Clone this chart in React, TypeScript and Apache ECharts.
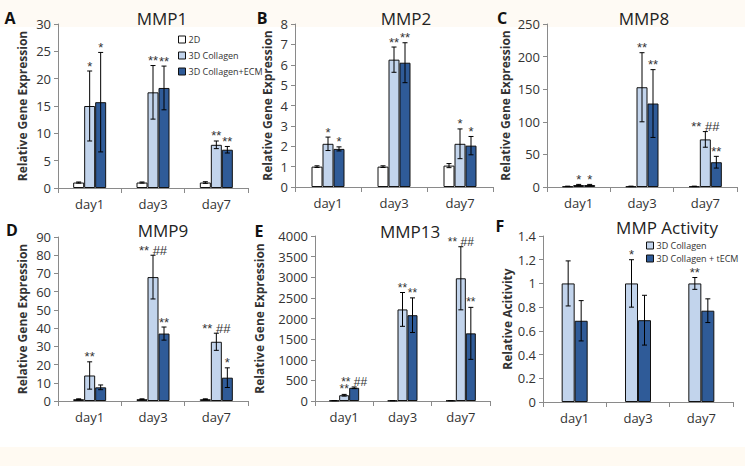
import React, { useEffect, useRef } from "react";
import * as echarts from "echarts";

const FONT = "'Open Sans', 'Liberation Sans', sans-serif";
const STAR_FONT = "'Liberation Sans', Arial, sans-serif";

const days = ["day1", "day3", "day7"];

// MMP1
const mmp1_2d = [1, 1, 1];
const mmp1_2dErr = [0.1, 0.1, 0.15];
const mmp1_col = [15, 17.5, 7.9];
const mmp1_colErr = [6.4, 4.9, 0.7];
const mmp1_ecm = [15.7, 18.3, 7.0];
const mmp1_ecmErr = [9.1, 4.0, 0.6];
const mmp1_colSig = ["*", "**", "**"];
const mmp1_ecmSig = ["*", "**", "**"];

// MMP2
const mmp2_2d = [1, 1, 1.05];
const mmp2_2dErr = [0.04, 0.04, 0.1];
const mmp2_col = [2.12, 6.25, 2.12];
const mmp2_colErr = [0.33, 0.62, 0.73];
const mmp2_ecm = [1.87, 6.1, 2.03];
const mmp2_ecmErr = [0.1, 0.98, 0.45];
const mmp2_colSig = ["*", "**", "*"];
const mmp2_ecmSig = ["*", "**", "*"];

// MMP8
const mmp8_2d = [1, 1, 1];
const mmp8_2dErr = [0.3, 0.3, 0.3];
const mmp8_col = [3, 153, 73];
const mmp8_colErr = [1, 53, 12];
const mmp8_ecm = [3, 128, 38];
const mmp8_ecmErr = [1, 52, 9];
const mmp8_colSig = ["*", "**", "** ##"];
const mmp8_ecmSig = ["*", "**", "**"];

// MMP9
const mmp9_2d = [1, 1, 1];
const mmp9_2dErr = [0.2, 0.2, 0.2];
const mmp9_col = [14, 68, 32.5];
const mmp9_colErr = [7.5, 12, 4.7];
const mmp9_ecm = [7.5, 37, 12.8];
const mmp9_ecmErr = [1.3, 3.6, 5.4];
const mmp9_colSig = ["**", "** ##", "** ##"];
const mmp9_ecmSig = ["", "**", "*"];

// MMP13
const mmp13_2d = [10, 10, 10];
const mmp13_2dErr = [2, 2, 2];
const mmp13_col = [140, 2220, 2975];
const mmp13_colErr = [20, 410, 765];
const mmp13_ecm = [320, 2080, 1640];
const mmp13_ecmErr = [20, 420, 630];
const mmp13_colSig = ["**", "**", "** ##"];
const mmp13_ecmSig = ["** ##", "**", "**"];

// MMP Activity
const act_col = [1, 1, 1];
const act_colErr = [0.19, 0.2, 0.05];
const act_tecm = [0.685, 0.69, 0.77];
const act_tecmErr = [0.17, 0.21, 0.1];
const act_colSig = ["", "*", "**"];
const act_tecmSig = ["", "", ""];

const C_WHITE = "#ffffff";
const C_LIGHT = "#c2d4ec";
const C_DARK = "#2f5b98";

type Bar = { name: string; color: string; vals: number[]; errs: number[]; sigs: string[] };
type Panel = {
  letter: string;
  title: string;
  yName: string;
  max: number;
  interval: number;
  grid: { left: number; top: number; width: number; height: number };
  barWidth: number;
  nameGap: number;
  titlePos: [number, number];
  letterPos: [number, number];
  sigFont: number;
  bars: Bar[];
};

const GENE = "Relative Gene Expression";

const panels: Panel[] = [
  {
    letter: "A", title: "MMP1", yName: GENE, max: 30, interval: 5,
    grid: { left: 58, top: 24, width: 190, height: 164 }, barWidth: 11, nameGap: 30,
    titlePos: [162, 18], letterPos: [10, 18], sigFont: 13,
    bars: [
      { name: "2D", color: C_WHITE, vals: mmp1_2d, errs: mmp1_2dErr, sigs: ["", "", ""] },
      { name: "3D Collagen", color: C_LIGHT, vals: mmp1_col, errs: mmp1_colErr, sigs: mmp1_colSig },
      { name: "3D Collagen+ECM", color: C_DARK, vals: mmp1_ecm, errs: mmp1_ecmErr, sigs: mmp1_ecmSig },
    ],
  },
  {
    letter: "B", title: "MMP2", yName: GENE, max: 8, interval: 1,
    grid: { left: 295, top: 24, width: 198, height: 163 }, barWidth: 11, nameGap: 22,
    titlePos: [406, 18], letterPos: [262, 18], sigFont: 13,
    bars: [
      { name: "2D", color: C_WHITE, vals: mmp2_2d, errs: mmp2_2dErr, sigs: ["", "", ""] },
      { name: "3D Collagen", color: C_LIGHT, vals: mmp2_col, errs: mmp2_colErr, sigs: mmp2_colSig },
      { name: "3D Collagen+ECM", color: C_DARK, vals: mmp2_ecm, errs: mmp2_ecmErr, sigs: mmp2_ecmSig },
    ],
  },
  {
    letter: "C", title: "MMP8", yName: GENE, max: 250, interval: 50,
    grid: { left: 547, top: 24, width: 190, height: 163 }, barWidth: 11, nameGap: 36,
    titlePos: [644, 18], letterPos: [502, 18], sigFont: 13,
    bars: [
      { name: "2D", color: C_WHITE, vals: mmp8_2d, errs: mmp8_2dErr, sigs: ["", "", ""] },
      { name: "3D Collagen", color: C_LIGHT, vals: mmp8_col, errs: mmp8_colErr, sigs: mmp8_colSig },
      { name: "3D Collagen+ECM", color: C_DARK, vals: mmp8_ecm, errs: mmp8_ecmErr, sigs: mmp8_ecmSig },
    ],
  },
  {
    letter: "D", title: "MMP9", yName: GENE, max: 90, interval: 10,
    grid: { left: 58, top: 237, width: 190, height: 164 }, barWidth: 11, nameGap: 30,
    titlePos: [163, 230], letterPos: [12, 230], sigFont: 13,
    bars: [
      { name: "2D", color: C_WHITE, vals: mmp9_2d, errs: mmp9_2dErr, sigs: ["", "", ""] },
      { name: "3D Collagen", color: C_LIGHT, vals: mmp9_col, errs: mmp9_colErr, sigs: mmp9_colSig },
      { name: "3D Collagen+ECM", color: C_DARK, vals: mmp9_ecm, errs: mmp9_ecmErr, sigs: mmp9_ecmSig },
    ],
  },
  {
    letter: "E", title: "MMP13", yName: GENE, max: 4000, interval: 500,
    grid: { left: 315, top: 236, width: 175, height: 165 }, barWidth: 10, nameGap: 50,
    titlePos: [410, 231], letterPos: [259, 231], sigFont: 12,
    bars: [
      { name: "2D", color: C_WHITE, vals: mmp13_2d, errs: mmp13_2dErr, sigs: ["", "", ""] },
      { name: "3D Collagen", color: C_LIGHT, vals: mmp13_col, errs: mmp13_colErr, sigs: mmp13_colSig },
      { name: "3D Collagen+ECM", color: C_DARK, vals: mmp13_ecm, errs: mmp13_ecmErr, sigs: mmp13_ecmSig },
    ],
  },
  {
    letter: "F", title: "MMP Activity", yName: "Relative Acitivity", max: 1.4, interval: 0.2,
    grid: { left: 543, top: 236, width: 190, height: 166 }, barWidth: 13, nameGap: 30,
    titlePos: [667, 227], letterPos: [500, 226], sigFont: 13,
    bars: [
      { name: "3D Collagen", color: C_LIGHT, vals: act_col, errs: act_colErr, sigs: act_colSig },
      { name: "3D Collagen + tECM", color: C_DARK, vals: act_tecm, errs: act_tecmErr, sigs: act_tecmSig },
    ],
  },
];

function buildOption() {
  const grids: any[] = [];
  const xAxes: any[] = [];
  const yAxes: any[] = [];
  const series: any[] = [];
  const graphics: any[] = [
    { type: "rect", shape: { x: 0, y: 0, width: 745, height: 27 }, style: { fill: "#fefaf4" }, z: -10, silent: true },
    { type: "rect", shape: { x: 0, y: 447, width: 745, height: 19 }, style: { fill: "#fffaf2" }, z: -10, silent: true },
  ];

  panels.forEach((p, gi) => {
    grids.push({ ...p.grid, containLabel: false });
    xAxes.push({
      type: "category",
      gridIndex: gi,
      data: days,
      boundaryGap: true,
      axisLine: { lineStyle: { color: "#8a8a8a", width: 1 } },
      axisTick: { show: true, alignWithLabel: false, length: 5, lineStyle: { color: "#8a8a8a" } },
      axisLabel: { color: "#333", fontSize: 13, fontFamily: FONT, margin: 9 },
    });
    yAxes.push({
      type: "value",
      gridIndex: gi,
      min: 0,
      max: p.max,
      interval: p.interval,
      name: p.yName,
      nameLocation: "middle",
      nameGap: p.nameGap,
      nameTextStyle: { fontSize: 12, fontWeight: "bold", color: "#333", fontFamily: FONT },
      axisLine: { show: true, lineStyle: { color: "#8a8a8a", width: 1 } },
      axisTick: { show: true, length: 4, lineStyle: { color: "#8a8a8a" } },
      splitLine: { show: false },
      axisLabel: {
        color: "#333",
        fontSize: 13,
        fontFamily: FONT,
        margin: 7,
        formatter: (v: number) => String(Math.round(v * 100) / 100),
      },
    });

    const n = p.bars.length;
    p.bars.forEach((b, bi) => {
      series.push({
        type: "bar",
        name: b.name,
        xAxisIndex: gi,
        yAxisIndex: gi,
        data: b.vals,
        barWidth: p.barWidth,
        barGap: "0%",
        itemStyle: { color: b.color, borderColor: "#111", borderWidth: 1 },
        emphasis: { disabled: true },
      });
      const offset = (bi - (n - 1) / 2) * p.barWidth;
      const sigs = b.sigs;
      series.push({
        type: "custom",
        name: b.name + "-err",
        xAxisIndex: gi,
        yAxisIndex: gi,
        z: 10,
        silent: true,
        data: b.vals.map((v, i) => [i, v, b.errs[i]]),
        renderItem: (params: any, api: any) => {
          const i = api.value(0);
          const v = api.value(1);
          const e = api.value(2);
          const top = api.coord([i, v + e]);
          const bot = api.coord([i, Math.max(v - e, 0)]);
          const x = top[0] + offset;
          const cap = 2.5;
          const st = { stroke: "#000", lineWidth: 1 };
          const children: any[] = [
            { type: "line", shape: { x1: x, y1: top[1], x2: x, y2: bot[1] }, style: st },
            { type: "line", shape: { x1: x - cap, y1: top[1], x2: x + cap, y2: top[1] }, style: st },
            { type: "line", shape: { x1: x - cap, y1: bot[1], x2: x + cap, y2: bot[1] }, style: st },
          ];
          const label = sigs[params.dataIndex] || "";
          if (label) {
            children.push({
              type: "text",
              x,
              y: top[1] - 5,
              style: {
                text: label,
                align: "center",
                verticalAlign: "middle",
                fontSize: p.sigFont,
                fontFamily: STAR_FONT,
                fill: "#333",
              },
            });
          }
          return { type: "group", children };
        },
      });
    });

    graphics.push({
      type: "text",
      x: p.titlePos[0],
      y: p.titlePos[1],
      style: { text: p.title, align: "center", verticalAlign: "middle", fontSize: 17, fontFamily: FONT, fill: "#222" },
    });
    graphics.push({
      type: "text",
      x: p.letterPos[0],
      y: p.letterPos[1],
      style: { text: p.letter, align: "center", verticalAlign: "middle", fontSize: 16, fontWeight: "bold", fontFamily: FONT, fill: "#111" },
    });
  });

  const legendCommon = {
    orient: "vertical",
    itemWidth: 7,
    itemHeight: 7,
    icon: "rect",
    selectedMode: false,
    itemStyle: { borderColor: "#111", borderWidth: 1 },
    textStyle: { fontSize: 9, color: "#333", fontFamily: FONT, padding: [0, 0, 0, -2] },
  };

  return {
    animation: false,
    backgroundColor: "#ffffff",
    grid: grids,
    xAxis: xAxes,
    yAxis: yAxes,
    series,
    legend: [
      { ...legendCommon, data: ["2D", "3D Collagen", "3D Collagen+ECM"], left: 173, top: 30, itemGap: 7 },
      { ...legendCommon, data: ["3D Collagen", "3D Collagen + tECM"], left: 641, top: 236, itemGap: 4 },
    ],
    graphic: graphics,
  };
}

export default function App() {
  const ref = useRef<HTMLDivElement>(null);
  useEffect(() => {
    document.body.style.margin = "0";
    if (!ref.current) return;
    const chart = echarts.init(ref.current, undefined, { renderer: "svg" });
    chart.setOption(buildOption() as any);
    return () => chart.dispose();
  }, []);
  return <div ref={ref} style={{ width: 745, height: 472 }} />;
}
